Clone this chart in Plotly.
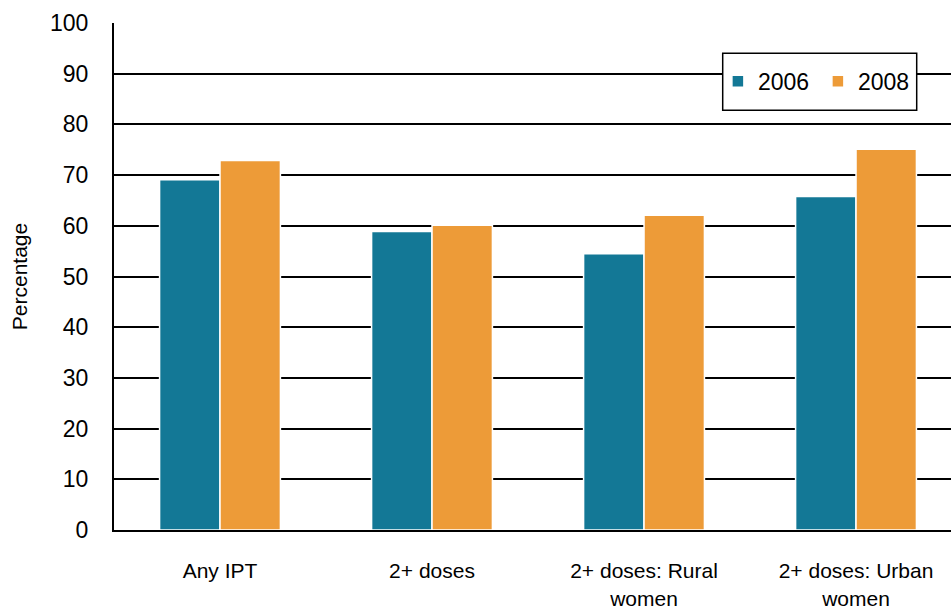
import plotly.graph_objects as go

categories = ["Any IPT", "2+ doses", "2+ doses: Rural<br>women", "2+ doses: Urban<br>women"]
values_2006 = [69.1, 58.9, 54.5, 65.8]
values_2008 = [72.9, 60.1, 62.1, 75.1]
series_names = ["2006", "2008"]
colors = ["#137896", "#ED9B38"]
y_ticks = list(range(0, 101, 10))

FONT = "Liberation Sans"

fig = go.Figure()
for name, vals, col in zip(series_names, [values_2006, values_2008], colors):
    fig.add_trace(go.Bar(
        name=name, x=categories, y=vals,
        marker=dict(color=col, line=dict(color="white", width=1.5)),
    ))

fig.update_layout(
    width=951, height=611,
    margin=dict(l=114, r=0, t=23, b=81),
    paper_bgcolor="white", plot_bgcolor="white",
    barmode="group", bargap=0.43, bargroupgap=0.0,
    font=dict(family=FONT, color="black", size=20),
    showlegend=True,
    legend=dict(
        x=0.7215, y=0.885, xanchor="left", yanchor="middle",
        orientation="h", bgcolor="rgba(0,0,0,0)", borderwidth=0,
        font=dict(family=FONT, size=23, color="black"),
        entrywidth=55, entrywidthmode="pixels",
        itemclick=False,
    ),
    shapes=[dict(
        type="rect", xref="paper", yref="paper",
        x0=(722.7 - 114) / 837, x1=(916.7 - 114) / 837,
        y0=(530 - 110.3) / 507, y1=(530 - 53.3) / 507,
        fillcolor="white", line=dict(color="black", width=1.5), layer="above",
    )],
)

fig.update_xaxes(
    range=[-0.5, 3.448], showgrid=False,
    showline=True, linecolor="black", linewidth=2,
    ticks="", ticklabelstandoff=21,
    tickfont=dict(family=FONT, size=21, color="black"),
)
fig.update_yaxes(
    range=[0, 100], tickvals=y_ticks,
    showgrid=True, gridcolor="black", gridwidth=1.5,
    showline=True, linecolor="black", linewidth=2,
    zeroline=False, ticks="", ticklabelstandoff=19,
    tickfont=dict(family=FONT, size=23, color="black"),
    title=dict(text="Percentage", standoff=17, font=dict(family=FONT, size=21, color="black")),
)

fig.write_html("out.html")
